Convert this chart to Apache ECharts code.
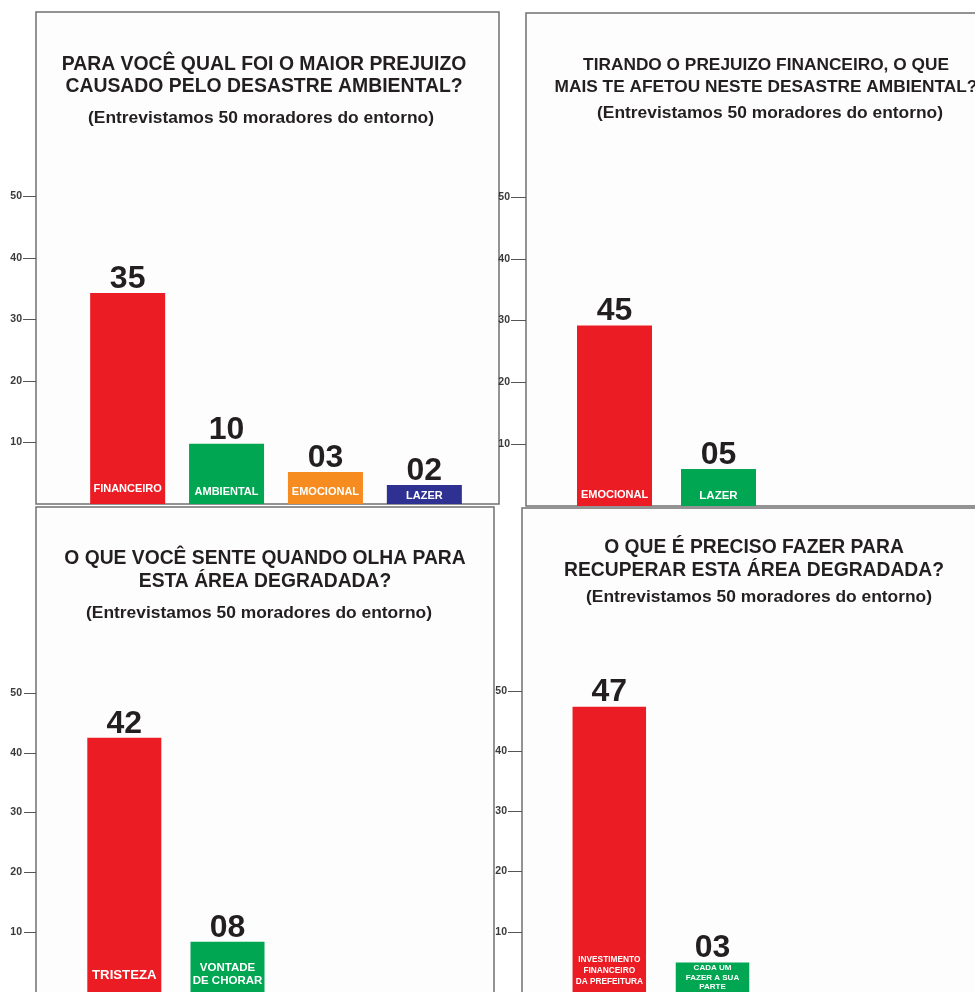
<!DOCTYPE html>
<html>
<head>
<meta charset="utf-8">
<script src="https://cdn.jsdelivr.net/npm/echarts@6/dist/echarts.min.js"></script>
<style>
html,body{margin:0;padding:0;background:#ffffff;}
#chart{width:975px;height:992px;}
</style>
</head>
<body>
<div id="chart"></div>
<script>
// ---------------- DATA ----------------
const yTicks = [10, 20, 30, 40, 50];
const subtitleText = '(Entrevistamos 50 moradores do entorno)';

const title1 = ['PARA VOCÊ QUAL FOI O MAIOR PREJUIZO', 'CAUSADO PELO DESASTRE AMBIENTAL?'];
const cats1 = ['FINANCEIRO', 'AMBIENTAL', 'EMOCIONAL', 'LAZER'];
const values1 = [34.3, 9.8, 5.2, 3.1];
const labels1 = ['35', '10', '03', '02'];

const title2 = ['TIRANDO O PREJUIZO FINANCEIRO, O QUE', 'MAIS TE AFETOU NESTE DESASTRE AMBIENTAL?'];
const cats2 = ['EMOCIONAL', 'LAZER'];
const values2 = [29.2, 6.0];
const labels2 = ['45', '05'];

const title3 = ['O QUE VOCÊ SENTE QUANDO OLHA PARA', 'ESTA ÁREA DEGRADADA?'];
const cats3 = ['TRISTEZA', 'VONTADE\nDE CHORAR'];
const values3 = [42.5, 8.4];
const labels3 = ['42', '08'];

const title4 = ['O QUE É PRECISO FAZER PARA', 'RECUPERAR ESTA ÁREA DEGRADADA?'];
const cats4 = ['INVESTIMENTO\nFINANCEIRO\nDA PREFEITURA', 'CADA UM\nFAZER A SUA\nPARTE'];
const values4 = [47.4, 4.9];
const labels4 = ['47', '03'];

// ---------------- STYLE / LAYOUT ----------------
const FONT = "'Liberation Sans', Arial, Helvetica, sans-serif";
const RED = '#EC1C24', GREEN = '#00A651', ORANGE = '#F68B1F', NAVY = '#2E3192';
const TEXT = '#231F20';

const panels = [
  { title: title1, cats: cats1, values: values1, labels: labels1,
    box: [36, 12, 463, 492],
    grid: { left: 78.2, top: 196.5, width: 395.6, height: 307.5 },
    axisOffset: 42.2, tickLen: 13, labelMargin: 14,
    barWidth: 75, colors: [RED, GREEN, ORANGE, NAVY],
    tx: 264, ty: [65, 87], tSize: 19.4, sx: 261, sy: 118,
    catFont: [11, 11, 11, 11], catLH: [12, 12, 12, 12], catDist: [9, 6, 6, 2.5] },
  { title: title2, cats: cats2, values: values2, labels: labels2,
    box: [526, 13, 470, 493],
    grid: { left: 562.5, top: 197, width: 208, height: 309 },
    axisOffset: 36.5, tickLen: 15, labelMargin: 16,
    barWidth: 75, colors: [RED, GREEN],
    tx: 766, ty: [65, 87], tSize: 17.3, sx: 770, sy: 113,
    catFont: [11, 11.5], catLH: [12, 12], catDist: [5, 4] },
  { title: title3, cats: cats3, values: values3, labels: labels3,
    box: [36, 507, 458, 500],
    grid: { left: 72.7, top: 693, width: 206.4, height: 305 },
    axisOffset: 36.7, tickLen: 12, labelMargin: 14,
    barWidth: 74, colors: [RED, GREEN],
    tx: 265, ty: [559, 582], tSize: 19.3, sx: 259, sy: 613,
    catFont: [13.2, 11.5], catLH: [14, 13], catDist: [10, 5] },
  { title: title4, cats: cats4, values: values4, labels: labels4,
    box: [522, 508, 470, 500],
    grid: { left: 557.7, top: 691, width: 206.4, height: 304 },
    axisOffset: 35.7, tickLen: 14, labelMargin: 15,
    barWidth: 73.5, colors: [RED, GREEN],
    tx: 754, ty: [548, 571], tSize: 19.3, sx: 759, sy: 597,
    catFont: [8.3, 8], catLH: [11, 9.3], catDist: [5, 0.5] }
];

// ---------------- BUILD ----------------
const graphics = [];
panels.forEach(p => {
  graphics.push({
    type: 'rect', z: -10, silent: true,
    shape: { x: p.box[0], y: p.box[1], width: p.box[2], height: p.box[3] },
    style: { fill: '#FDFDFD', stroke: '#707070', lineWidth: 1.5 }
  });
  p.title.forEach((line, k) => {
    graphics.push({
      type: 'text', x: p.tx, y: p.ty[k], z: 10, silent: true,
      style: { text: line, align: 'center', verticalAlign: 'middle', fill: TEXT,
               fontSize: p.tSize, fontWeight: 'bold', fontFamily: FONT }
    });
  });
  graphics.push({
    type: 'text', x: p.sx, y: p.sy, z: 10, silent: true,
    style: { text: subtitleText, align: 'center', verticalAlign: 'middle', fill: TEXT,
             fontSize: 17.4, fontWeight: 'bold', fontFamily: FONT }
  });
});

const series = [];
panels.forEach((p, i) => {
  series.push({
    type: 'bar', xAxisIndex: i, yAxisIndex: i, barWidth: p.barWidth, barGap: '-100%',
    data: p.values.map((v, j) => ({ value: v, itemStyle: { color: p.colors[j] } })),
    label: {
      show: true, position: 'top', distance: 1,
      formatter: prm => p.labels[prm.dataIndex],
      fontSize: 32, fontWeight: 'bold', color: TEXT, fontFamily: FONT, lineHeight: 26
    }
  });
  series.push({
    type: 'bar', xAxisIndex: i, yAxisIndex: i, barWidth: p.barWidth, barGap: '-100%', silent: true,
    itemStyle: { color: 'rgba(0,0,0,0)' }, z: 5,
    data: p.values.map((v, j) => ({
      value: v,
      label: { distance: p.catDist[j], fontSize: p.catFont[j], lineHeight: p.catLH[j] }
    })),
    label: {
      show: true, position: 'insideBottom', align: 'center',
      formatter: prm => p.cats[prm.dataIndex],
      color: '#FFFFFF', fontWeight: 'bold', fontFamily: FONT
    }
  });
});

const option = {
  animation: false,
  backgroundColor: '#FFFFFF',
  graphic: graphics,
  grid: panels.map(p => Object.assign({ containLabel: false }, p.grid)),
  xAxis: panels.map((p, i) => ({
    type: 'category', gridIndex: i, data: p.cats,
    axisLine: { show: false }, axisTick: { show: false }, axisLabel: { show: false },
    splitLine: { show: false }
  })),
  yAxis: panels.map((p, i) => ({
    type: 'value', gridIndex: i, min: 0, max: 50, interval: 10, offset: p.axisOffset,
    axisLine: { show: false },
    axisTick: { show: true, length: p.tickLen, customValues: yTicks,
                lineStyle: { color: '#555555', width: 1 } },
    axisLabel: { customValues: yTicks, margin: p.labelMargin, fontSize: 10.5, fontWeight: 'bold',
                 color: '#3A3A3A', fontFamily: FONT,
                 formatter: v => (v === 0 ? '' : String(v)) },
    splitLine: { show: false }
  })),
  series: series
};

const chart = echarts.init(document.getElementById('chart'), null, { renderer: 'canvas' });
chart.setOption(option);
</script>
</body>
</html>
